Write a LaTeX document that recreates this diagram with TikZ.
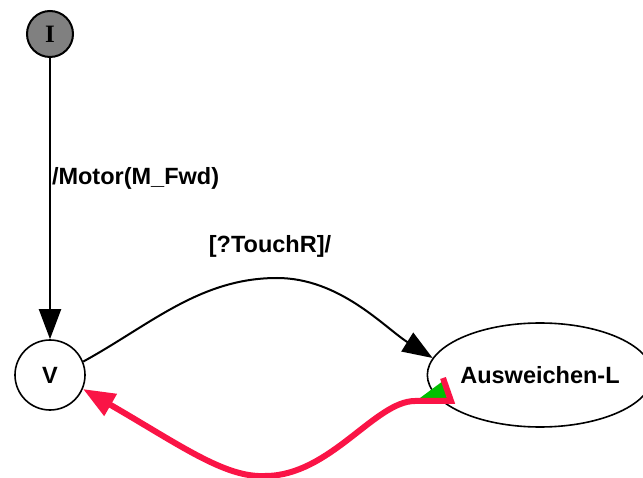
\documentclass[tikz,border=0pt]{standalone}
\usepackage{fontspec}
\setmainfont{Liberation Sans}
\newfontfamily\initfont{Liberation Serif}
\usetikzlibrary{arrows.meta,shapes.geometric,positioning}
\definecolor{initgray}{RGB}{128,128,128}
\definecolor{hotred}{RGB}{250,20,70}
\definecolor{tailgreen}{RGB}{0,190,0}
\tikzstyle{init} = [circle, draw, line width=2pt, fill=initgray, minimum size=46pt, inner sep=0pt, font=\initfont\bfseries\fontsize{25}{25}\selectfont]
\tikzstyle{state} = [circle, draw, line width=1.6pt, minimum size=70pt, inner sep=0pt]
\tikzstyle{mode} = [ellipse, draw, line width=1.6pt, minimum width=208pt, minimum height=104pt, inner sep=0pt]
\tikzstyle{trans} = [line width=2pt, ->]
\tikzstyle{hotline} = [hotred, line width=6pt, line join=miter, -{Triangle[length=32pt, width=24pt]}]

\begin{document}
\begin{tikzpicture}[x=1pt, y=-1pt, node distance=341pt, >={Triangle[length=30pt, width=22pt]}, font=\bfseries\fontsize{23.5}{23.5}\selectfont]
        \useasboundingbox (0,0) rectangle (643,478);
        \node[init] (init) at (50,34) {I};
        \node[state, below of = init] (V) {V};
        \node[mode, right of = V, node distance=490pt] (ausw) {Ausweichen-L};

        \draw[trans] (init) -- node[pos=0.43, anchor=west, inner sep=1pt]{/Motor(M\_Fwd)} (V);
        \draw[trans] (V.22) .. controls (150,325) and (200,278) .. (277,278) node[anchor=base, xshift=-7pt, yshift=25pt]{[?TouchR]/} .. controls (340,278) and (385,328) .. (ausw.171);

        % back edge with its tail mark
        \coordinate (tail) at (451,401);
        \fill[tailgreen] (tail) ++(-31,-3) -- ++(23,-17) -- ++(4,17) -- cycle;
        \draw[hotline] ([shift={(-8,-23)}]tail) -- (tail) -- ++(-36,0) .. controls (375,401) and (330,476) .. (265,476) .. controls (225,478) and (180,445) .. (V.-23);
    \end{tikzpicture}
\end{document}
